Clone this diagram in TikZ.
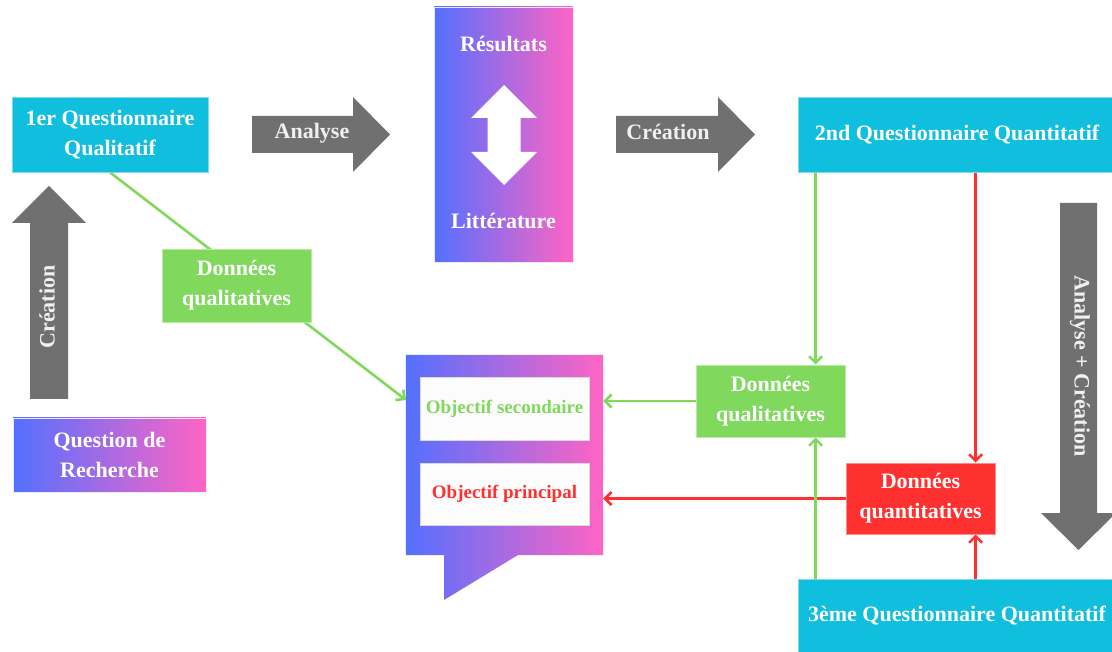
\documentclass[tikz,border=0pt]{standalone}
\usepackage{fontspec}
\setmainfont{Liberation Serif}
\usetikzlibrary{arrows.meta,calc}

\definecolor{qcyan}{RGB}{16,190,222}
\definecolor{qgreen}{RGB}{128,216,92}
\definecolor{qred}{RGB}{255,48,48}
\definecolor{qgray}{RGB}{112,112,112}
\definecolor{gblue}{RGB}{84,112,255}
\definecolor{gpink}{RGB}{255,100,196}

\pgfdeclarelayer{lines}
\pgfsetlayers{lines,main}

\tikzset{
  lbl/.style={font=\fontsize{22}{30}\selectfont\bfseries, text=white, align=center},
  arrowlbl/.style={lbl, text=white!94!black, inner sep=0pt},
  boxbase/.style={lbl, rectangle, inner sep=0pt, line width=0.8pt},
  cyanbox/.style={boxbase, fill=qcyan, draw=qcyan!55!white},
  greenbox/.style={boxbase, fill=qgreen, draw=qgreen!55!white},
  redbox/.style={boxbase, fill=qred, draw=qred!55!white},
  gradbox/.style={boxbase, left color=gblue, right color=gpink, draw=gblue!15!white},
  objbox/.style={rectangle, inner sep=0pt, fill=white!99!black, draw=white!85!black, line width=0.5pt,
    minimum width=169pt, font=\fontsize{19}{24}\selectfont\bfseries},
  bigarrow/.style={fill=qgray},
  gline/.style={draw=qgreen, line width=2.6pt},
  rline/.style={draw=qred, line width=2.6pt},
  tip/.style={-{Straight Barb[length=6.5pt,width=13pt]}},
}

\begin{document}
\begin{tikzpicture}[x=1pt,y=-1pt]
\useasboundingbox (0,0) rectangle (1112,652);

% boxes
\node[cyanbox, minimum width=196pt, minimum height=75pt] (q1) at (110,134.5) {1er Questionnaire\\Qualitatif};
\node[gradbox, minimum width=139pt, minimum height=255pt] (res) at (503.5,134.5) {};
\node[lbl] (tres) at (503.5,44) {Résultats};
\node[lbl] (tlit) at (503.5,221) {Littérature};
\node[cyanbox, minimum width=318pt, minimum height=75pt] (q2) at (957,134.5) {2nd Questionnaire Quantitatif};
\node[gradbox, minimum width=193pt, minimum height=74pt] (rq) at (109.5,455) {Question de\\Recherche};
\node[greenbox, minimum width=149pt, minimum height=73pt] (dq1) at (236.5,285.5) {Données\\qualitatives};
\node[greenbox, minimum width=149pt, minimum height=72pt] (dq2) at (770.5,401) {Données\\qualitatives};
\node[redbox, minimum width=149pt, minimum height=71pt] (dn) at (920.5,498.5) {Données\\quantitatives};
\node[cyanbox, minimum width=318pt, minimum height=74pt] (q3) at (957,616) {3ème Questionnaire Quantitatif};

% speech bubble holding the two objectives
\node[rectangle, inner sep=0pt, minimum width=197pt, minimum height=200pt] (obj) at (504.5,455) {};
\shade[left color=gblue, right color=gpink]
  (obj.north west) -- (obj.north east) -- (obj.south east) -- (518,555) -- (444,600) -- (444,555)
  -- (obj.south west) -- cycle;
\node[objbox, minimum height=63pt, text=qgreen] (os) at (504.5,408.5) {Objectif secondaire};
\node[objbox, minimum height=62pt, text=qred] (op) at (504.5,494) {Objectif principal};

% white double arrow between results and literature
\fill[white] (504,85) -- (537,118) -- (520.5,118) -- (520.5,152) -- (537,152) -- (504,185)
  -- (471,152) -- (487.5,152) -- (487.5,118) -- (471,118) -- cycle;

% grey block arrows
\fill[bigarrow] (252,116) -- (353,116) -- (353,97) -- (390,134.5) -- (353,172) -- (353,153) -- (252,153) -- cycle;
\node[arrowlbl] (tan) at (312,133) {Analyse};
\fill[bigarrow] (616,116) -- (718,116) -- (718,97) -- (755,134.5) -- (718,172) -- (718,153) -- (616,153) -- cycle;
\node[arrowlbl] (tcr) at (668,132) {Création};
\fill[bigarrow] (30,399) -- (30,223) -- (12,223) -- (49,186) -- (86,223) -- (68,223) -- (68,399) -- cycle;
\node[arrowlbl, rotate=90] (tcl) at (47,307) {Création};
\fill[bigarrow] (1060,203) -- (1097,203) -- (1097,513) -- (1116,513) -- (1078.5,550) -- (1041,513) -- (1060,513) -- cycle;
\node[arrowlbl, rotate=-90] (tac) at (1080,366) {Analyse + Création};

% connectors
\coordinate (objin) at (406,400);
\begin{pgfonlayer}{lines}
  \draw[rline, tip] ([xshift=178pt]q2.south west) -- ([xshift=178pt]q2.south west |- dn.north);
  \draw[rline, tip] ([xshift=178pt]q3.north west) -- ([xshift=178pt]q3.north west |- dn.south);
  \draw[rline, tip] (dn.west) -- (obj.east |- dn.west);
  \draw[gline, tip] (q1.south) -- (objin);
  \draw[gline, tip] ([xshift=18pt]q2.south west) -- ([xshift=18pt]q2.south west |- dq2.north);
  \draw[gline, tip] ([xshift=18pt]q3.north west) -- ([xshift=18pt]q3.north west |- dq2.south);
  \draw[gline, tip] (dq2.west) -- (obj.east |- dq2.west);
\end{pgfonlayer}
\end{tikzpicture}
\end{document}
